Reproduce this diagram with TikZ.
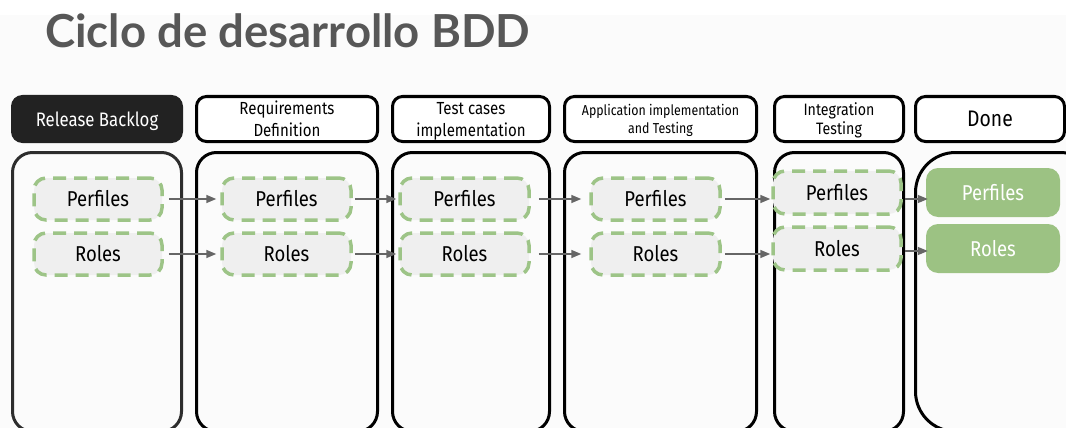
\documentclass[tikz,border=0pt]{standalone}
\usepackage{fontspec}
\newfontfamily\labelfont[FakeStretch=0.86]{Fira Sans}
\newfontfamily\titlefont{Lato}
\usetikzlibrary{arrows.meta,calc}

\definecolor{pagebg}{HTML}{FBFBFB}
\definecolor{dashgreen}{HTML}{9DC487}
\definecolor{cardgray}{HTML}{EFEFEF}
\definecolor{donegreen}{HTML}{9CC283}
\definecolor{arrowgray}{HTML}{666666}
\definecolor{titlegray}{HTML}{575757}
\definecolor{darkhead}{HTML}{222222}

\begin{document}
\begin{tikzpicture}[x=1pt,y=-1pt,
  header/.style={rounded corners=10pt, line width=3pt, draw=black, fill=white,
    inner sep=0pt, align=center, minimum height=45pt, text depth=0pt,
    font=\labelfont\fontsize{17.5}{22}\selectfont},
  column/.style={rounded corners=20pt, line width=3pt, draw=black,
    inner sep=0pt, minimum height=279pt},
  card/.style={rounded corners=12pt, line width=3.5pt, draw=dashgreen,
    dash pattern=on 13pt off 8pt, fill=cardgray, inner sep=0pt,
    minimum height=42pt, font=\labelfont\fontsize{21.5}{24}\selectfont},
  donecard/.style={rounded corners=12pt, fill=donegreen, text=white,
    inner sep=0pt, minimum width=134pt, minimum height=49pt,
    font=\labelfont\fontsize{21.5}{24}\selectfont},
  flow/.style={draw=arrowgray, line width=1.5pt,
    -{Triangle[length=10pt,width=8pt]}}
]
\useasboundingbox (0,0) rectangle (1066,428);
\clip (0,0) rectangle (1066,428);
\fill[pagebg] (0,0) rectangle (1066,428);
\fill[white] (0,0) rectangle (1066,15);

% title
\node[anchor=base west, inner sep=0pt, text=titlegray,
  font=\titlefont\bfseries\fontsize{45.5}{48}\selectfont] (title) at (45,48)
  {Ciclo de desarrollo BDD};

% stage headers
\node[header, fill=darkhead, draw=darkhead, text=white, minimum width=169pt,
  font=\labelfont\fontsize{19.5}{22}\selectfont] (h1) at (97,119) {Release Backlog};
\node[header, minimum width=181pt] (h2) at (287,119) {Requirements\\Definition};
\node[header, minimum width=157pt, font=\labelfont\fontsize{17.5}{22}\selectfont]
  (h3) at (471,119) {Test cases\\implementation};
\node[header, minimum width=192pt, font=\labelfont\fontsize{14.4}{18}\selectfont]
  (h4) at (660.5,119) {Application implementation\\and Testing};
\node[header, minimum width=129pt, font=\labelfont\fontsize{16.5}{19}\selectfont]
  (h5) at (839,119) {Integration\\Testing};
\node[header, minimum width=149pt, font=\labelfont\fontsize{22.5}{24}\selectfont]
  (h6) at (990,119) {Done};

% stage columns
\node[column, draw=darkhead!95, minimum width=169pt] (c1) at (97,292) {};
\node[column, minimum width=181pt] (c2) at (287,292) {};
\node[column, minimum width=157pt] (c3) at (471,292) {};
\node[column, minimum width=192pt] (c4) at (660.5,292) {};
\node[column, minimum width=129pt] (c5) at (839,292) {};
\node[column, rounded corners=40pt, minimum width=184.5pt] (c6) at (1007.75,292) {};

% work items
\node[card, minimum width=128pt] (p1) at (98,199) {Perfiles};
\node[card, minimum width=128pt] (r1) at (98,254) {Roles};
\node[card, minimum width=129pt] (p2) at (286.5,199) {Perfiles};
\node[card, minimum width=129pt] (r2) at (286.5,254) {Roles};
\node[card, minimum width=129pt] (p3) at (464.5,199) {Perfiles};
\node[card, minimum width=129pt] (r3) at (464.5,254) {Roles};
\node[card, minimum width=129pt] (p4) at (655.5,199) {Perfiles};
\node[card, minimum width=129pt] (r4) at (655.5,254) {Roles};
\node[card, minimum width=128pt, minimum height=43pt] (p5) at (837,192.5) {Perfiles};
\node[card, minimum width=128pt, minimum height=43pt] (r5) at (837,248.5) {Roles};
\node[donecard] (p6) at (993,192.5) {Perfiles};
\node[donecard] (r6) at (993,248.5) {Roles};

% flow between stages
\draw[flow] ([xshift=5pt]p1.east) -- ([xshift=-4pt]p2.west);
\draw[flow] ([xshift=5pt]r1.east) -- ([xshift=-4pt]r2.west);
\draw[flow] ([xshift=2pt]p2.east) -- ([xshift=-2pt]p3.west);
\draw[flow] ([xshift=2pt]r2.east) -- ([xshift=-2pt]r3.west);
\draw[flow] ([xshift=8pt]p3.east) -- ([xshift=-8pt]p4.west);
\draw[flow] ([xshift=8pt]r3.east) -- ([xshift=-8pt]r4.west);
\draw[flow] ([xshift=3pt]p4.east) -- ([xshift=-1pt]p4.east -| p5.west);
\draw[flow] ([xshift=3pt]r4.east) -- ([xshift=-1pt]r4.east -| r5.west);
\draw[flow] ([xshift=2pt,yshift=-6.5pt]p5.east) -- ([xshift=2pt,yshift=-6.5pt]p5.east -| p6.west);
\draw[flow] ([xshift=2pt,yshift=-2.5pt]r5.east) -- ([xshift=2pt,yshift=-2.5pt]r5.east -| r6.west);
\end{tikzpicture}
\end{document}
